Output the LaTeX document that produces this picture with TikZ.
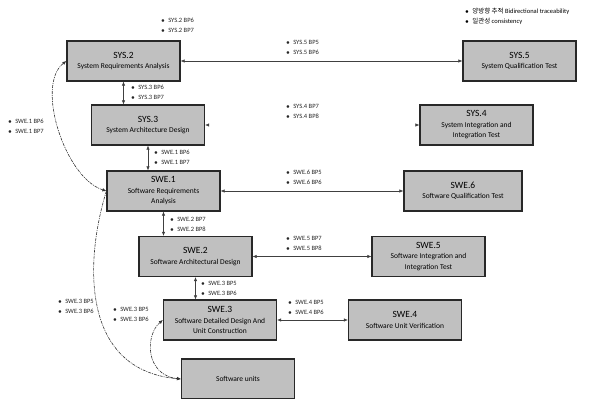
\documentclass[tikz,border=0pt]{standalone}
\usepackage{fontspec}
\setmainfont{Carlito}
\newfontfamily\krfont{Noto Sans CJK KR}
\usetikzlibrary{arrows.meta,positioning}
\definecolor{boxgray}{RGB}{192,192,192}
\definecolor{edgegray}{RGB}{40,40,40}
\newcommand{\boxtitle}[1]{{\fontsize{9.5}{11}\selectfont #1}}
\tikzset{
  procbox/.style={
    draw=edgegray,line width=1.2pt,fill=boxgray,align=center,
    minimum width=113pt,minimum height=40pt,inner sep=1pt,
    font=\fontsize{7.5}{10.5}\selectfont
  },
  bplabel/.style={anchor=west,align=left,inner sep=0pt,text=black!85,
    font=\fontsize{6.5}{10}\selectfont},
  linkarrow/.style={{Latex[length=4pt,width=3.5pt]}-{Latex[length=4pt,width=3.5pt]},
    line width=0.6pt,draw=black!75},
  fadedlink/.style={{Latex[length=4pt,width=3.5pt,color=black!75]}-{Latex[length=4pt,width=3.5pt,color=black!75]},
    line width=0.6pt,draw=white},
  tracearrow/.style={line width=0.6pt,draw=black!80,
    dash pattern=on 3pt off 1pt on 1pt off 1pt}
}

\begin{document}
\begin{tikzpicture}[x=1pt,y=-1pt]
  \useasboundingbox (0,0) rectangle (598,399);
  % system level
  \node[procbox] (sys2) at (123.5,61) {\boxtitle{SYS.2}\\System Requirements Analysis};
  \node[procbox] (sys3) at (148,125) {\boxtitle{SYS.3}\\System Architecture Design};
  \node[procbox] (sys5) at (519.5,61) {\boxtitle{SYS.5}\\System Qualification Test};
  \node[procbox] (sys4) at (476.5,125) {\boxtitle{SYS.4}\\System Integration and\\Integration Test};
  % software level
  \node[procbox] (swe1) at (163.5,191) {\boxtitle{SWE.1}\\Software Requirements\\Analysis};
  \node[procbox] (swe2) at (195.5,256.5) {\boxtitle{SWE.2}\\Software Architectural Design};
  \node[procbox] (swe3) at (220,320) {\boxtitle{SWE.3}\\Software Detailed Design And\\Unit Construction};
  \node[procbox,minimum width=118pt] (swe6) at (463,191) {\boxtitle{SWE.6}\\Software Qualification Test};
  \node[procbox] (swe5) at (428.5,256.5) {\boxtitle{SWE.5}\\Software Integration and\\Integration Test};
  \node[procbox] (swe4) at (405,320) {\boxtitle{SWE.4}\\Software Unit Verification};
  \node[procbox] (units) at (238,379) {Software units};

  % consistency / traceability links
  \draw[linkarrow] (sys2) -- (sys5);
  \draw[fadedlink] (sys3) -- (sys4);
  \draw[linkarrow] (swe1) -- (swe6);
  \draw[linkarrow] (swe2) -- (swe5);
  \draw[linkarrow] (swe3) -- (swe4);
  \draw[linkarrow] (sys2.south) -- (sys2.south |- sys3.north);
  \draw[linkarrow] (sys3.south) -- (sys3.south |- swe1.north);
  \draw[linkarrow] (swe1.south) -- (swe1.south |- swe2.north);
  \draw[linkarrow] (swe2.south) -- (swe2.south |- swe3.north);
  \draw[tracearrow,{Latex[length=4pt,width=3.5pt]}-{Latex[length=4pt,width=3.5pt]}]
    (swe1.west) .. controls (65,178) and (35,85) .. (sys2.west);
  \draw[tracearrow,-{Latex[length=4pt,width=3.5pt]}]
    (swe1.west) .. controls (85,260) and (80,370) .. (units.west);
  \draw[tracearrow,{Latex[length=4pt,width=3.5pt]}-{Latex[length=4pt,width=3.5pt]}]
    (swe3.west) .. controls (145,335) and (145,375) .. (units.west);

  % base practice labels
  \node[bplabel] (lsys2) at (161,25) {$\bullet$\; SYS.2 BP6\\$\bullet$\; SYS.2 BP7};
  \node[bplabel] (lsys3) at (131,92) {$\bullet$\; SYS.3 BP6\\$\bullet$\; SYS.3 BP7};
  \node[bplabel] (lsys5) at (286,47) {$\bullet$\; SYS.5 BP5\\$\bullet$\; SYS.5 BP6};
  \node[bplabel] (lsys4) at (286,111) {$\bullet$\; SYS.4 BP7\\$\bullet$\; SYS.4 BP8};
  \node[bplabel] (lswe1) at (154,157) {$\bullet$\; SWE.1 BP6\\$\bullet$\; SWE.1 BP7};
  \node[bplabel] (lswe1b) at (8,126) {$\bullet$\; SWE.1 BP6\\$\bullet$\; SWE.1 BP7};
  \node[bplabel] (lswe6) at (286,177) {$\bullet$\; SWE.6 BP5\\$\bullet$\; SWE.6 BP6};
  \node[bplabel] (lswe2) at (170,224) {$\bullet$\; SWE.2 BP7\\$\bullet$\; SWE.2 BP8};
  \node[bplabel] (lswe5) at (286,243) {$\bullet$\; SWE.5 BP7\\$\bullet$\; SWE.5 BP8};
  \node[bplabel] (lswe3) at (201,288) {$\bullet$\; SWE.3 BP5\\$\bullet$\; SWE.3 BP6};
  \node[bplabel] (lswe4) at (288,307) {$\bullet$\; SWE.4 BP5\\$\bullet$\; SWE.4 BP6};
  \node[bplabel] (lswe3b) at (58,306) {$\bullet$\; SWE.3 BP5\\$\bullet$\; SWE.3 BP6};
  \node[bplabel] (lswe3c) at (113,314) {$\bullet$\; SWE.3 BP5\\$\bullet$\; SWE.3 BP6};
  % legend
  \node[bplabel,text=black] (legend) at (465,16)
    {$\bullet$\; {\krfont 양방향 추적} Bidirectional traceability\\$\bullet$\; {\krfont 일관성} consistency};
\end{tikzpicture}
\end{document}
